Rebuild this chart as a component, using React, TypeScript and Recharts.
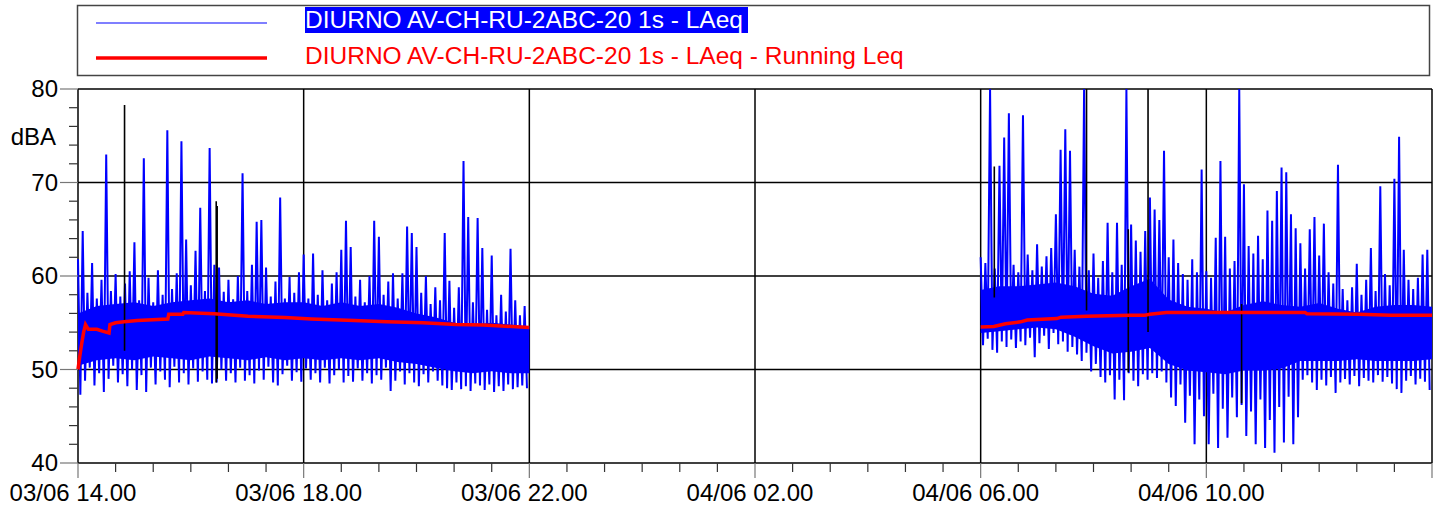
import { Area, CartesianGrid, ComposedChart, Line, XAxis, YAxis } from 'recharts'

// minutes from 03/06 14.00
const SLOT = 5
const CORE_STEP = 20
const DAY_START = 0
const MORNING_START = 960

const xTicks = Array.from({ length: 37 }, (_, i) => i * 40)
const xLabels: Record<number, string> = {
  0: '03/06 14.00',
  240: '03/06 18.00',
  480: '03/06 22.00',
  720: '04/06 02.00',
  960: '04/06 06.00',
  1200: '04/06 10.00',
}
const yTicks = Array.from({ length: 21 }, (_, i) => 40 + i * 2)

// LAeq 1s, 5-minute max / min envelope, 14.00 - 22.00
const dayHi = [
  61.8, 64.8, 58.2, 61.4, 57.6, 59.6, 73.0, 58.4, 60.2, 57.8,
  59.2, 60.5, 63.6, 57.4, 72.6, 59.8, 57.2, 60.6, 58.0, 75.6,
  58.6, 60.3, 74.4, 63.9, 59.0, 62.7, 67.3, 58.4, 73.7, 61.2,
  60.9, 58.3, 59.6, 57.5, 60.0, 71.0, 58.4, 61.2, 65.8, 66.0,
  60.9, 57.8, 59.4, 68.4, 57.6, 59.9, 58.2, 60.4, 62.3, 57.6,
  62.4, 58.0, 60.6, 57.4, 59.2, 60.4, 62.8, 65.9, 63.1, 57.8,
  59.6, 57.2, 60.0, 65.9, 64.2, 58.0, 59.4, 60.3, 57.6, 60.3,
  65.3, 64.6, 63.1, 58.2, 60.0, 57.0, 58.8, 57.4, 64.6, 59.5,
  56.6, 58.8, 72.3, 66.3, 57.2, 66.2, 63.0, 56.4, 62.2, 55.8,
  58.0, 56.2, 62.9, 57.4, 55.8, 56.8,
]
const dayLo = [
  47.3, 48.8, 50.2, 48.3, 49.6, 47.6, 49.0, 50.4, 48.6, 49.5,
  48.2, 50.0, 47.8, 49.4, 47.6, 50.2, 48.4, 49.8, 48.9, 48.1,
  50.3, 48.6, 49.6, 48.4, 50.1, 48.7, 49.8, 48.9, 48.5, 48.6,
  50.0, 48.8, 49.6, 48.6, 50.2, 48.8, 49.4, 48.5, 49.9, 48.9,
  50.3, 48.6, 48.3, 49.5, 50.4, 48.8, 49.7, 48.7, 50.1, 48.9,
  49.6, 48.6, 50.2, 48.5, 49.4, 50.0, 48.6, 49.3, 48.7, 50.1,
  48.8, 49.6, 48.5, 49.4, 48.9, 50.2, 47.7, 48.8, 49.8, 48.4,
  49.6, 48.6, 48.2, 49.5, 48.6, 49.8, 48.8, 48.3, 48.0, 47.8,
  48.6, 47.9, 48.2, 47.7, 48.5, 48.3, 47.8, 48.4, 47.6, 48.2,
  47.7, 48.4, 47.9, 48.1, 48.3, 48.0,
]
// dense part of the trace, every 20 minutes
const dayCoreHi = [
  56.0, 56.8, 57.0, 57.2, 56.8, 57.2, 57.4, 57.6, 57.2, 57.4, 57.0, 57.2, 57.2,
  56.8, 57.2, 56.8, 57.0, 56.6, 56.0, 55.6, 55.0, 54.8, 55.0, 54.8, 54.6,
]
const dayCoreLo = [
  50.4, 51.0, 51.2, 51.0, 51.4, 51.2, 51.0, 51.4, 51.2, 51.0, 51.3, 51.0, 51.2,
  51.0, 51.2, 51.0, 51.2, 50.8, 50.6, 50.2, 49.8, 49.6, 49.8, 49.6, 49.6,
]

// LAeq 1s, 5-minute max / min envelope, 06.00 - 14.00
const morningHi = [
  62.0, 61.4, 80.0, 60.8, 71.8, 74.8, 77.4, 61.2, 60.4, 77.2,
  62.3, 60.6, 63.4, 61.0, 62.1, 63.0, 66.6, 73.5, 75.7, 73.4,
  62.8, 61.0, 80.0, 60.6, 62.4, 59.8, 61.6, 65.7, 60.4, 65.7,
  61.2, 80.0, 65.5, 63.8, 62.6, 64.8, 68.4, 67.1, 66.0, 73.4,
  62.0, 63.9, 61.4, 60.2, 59.6, 61.8, 60.4, 71.4, 60.5, 59.8,
  64.1, 72.3, 64.2, 60.8, 61.6, 80.0, 69.8, 63.2, 62.4, 64.3,
  61.8, 67.0, 65.9, 69.1, 71.6, 71.1, 66.6, 65.1, 63.5, 60.8,
  65.0, 66.3, 62.2, 65.6, 60.4, 59.2, 71.9, 58.6, 57.4, 58.8,
  61.3, 58.0, 59.6, 63.0, 58.4, 69.6, 60.2, 59.0, 70.4, 74.9,
  62.8, 59.6, 58.6, 59.8, 62.3, 62.8,
]
const morningLo = [
  52.6, 53.3, 52.1, 51.8, 53.0, 52.4, 53.2, 52.3, 53.0, 52.6,
  53.4, 51.3, 52.8, 53.6, 52.2, 53.9, 52.7, 53.0, 51.9, 52.4,
  51.6, 50.9, 51.8, 49.8, 50.6, 49.2, 48.6, 49.4, 46.8, 48.9,
  46.7, 49.6, 48.8, 48.2, 49.5, 48.9, 49.6, 49.1, 49.8, 48.6,
  47.0, 46.1, 48.4, 44.3, 47.2, 42.0, 46.8, 45.0, 42.0, 47.4,
  41.6, 45.8, 42.7, 47.0, 44.9, 46.2, 42.9, 45.5, 42.0, 46.8,
  41.6, 44.6, 41.1, 46.0, 42.2, 47.1, 42.0, 44.9, 48.9, 49.4,
  48.6, 47.8, 48.9, 48.3, 49.2, 47.5, 48.6, 49.0, 48.4, 49.3,
  48.2, 49.1, 48.8, 48.6, 49.4, 48.7, 49.2, 48.5, 47.9, 47.5,
  48.8, 49.3, 48.4, 49.0, 48.7, 47.8,
]
const morningCoreHi = [
  58.5, 58.9, 58.9, 59.1, 59.3, 58.9, 58.1, 57.9, 58.9, 59.7, 57.5, 56.7, 56.5,
  56.1, 56.9, 57.3, 56.9, 56.7, 57.1, 56.5, 56.1, 56.7, 56.9, 56.9, 56.7,
]
const morningCoreLo = [
  53.9, 54.1, 54.3, 54.5, 54.3, 53.5, 52.5, 51.7, 51.9, 52.3, 50.6, 49.9, 49.7,
  49.5, 49.9, 49.9, 50.1, 50.9, 50.9, 50.9, 51.1, 50.9, 50.9, 50.9, 51.1,
]

// running Leq [minute, dBA]
const runningLeqDay: [number, number][] = [
  [0, 50.0], [2, 51.5], [4, 52.8], [6, 54.0], [8, 54.8], [11, 54.3], [20, 54.3],
  [26, 54.1], [33, 53.9], [34, 54.8], [40, 55.0], [49, 55.1], [63, 55.25], [95.5, 55.4],
  [96.5, 55.9], [111.5, 55.9], [112.5, 56.1], [145, 55.95], [181, 55.7], [220, 55.55],
  [248, 55.4], [294, 55.25], [328, 55.1], [367, 55.0], [402, 54.8], [431, 54.75], [480, 54.5],
]
const runningLeqMorning: [number, number][] = [
  [960, 54.55], [974, 54.6], [986.5, 54.9], [1002.5, 55.1], [1009.5, 55.3], [1041, 55.45],
  [1045.5, 55.6], [1072.5, 55.7], [1118.5, 55.8], [1134.5, 55.8], [1139.8, 55.9],
  [1157.5, 56.1], [1305, 56.1], [1307, 55.95], [1362, 55.9], [1396, 55.8], [1440, 55.8],
]

// black event marks [minute, top, bottom]
const markers: [number, number, number][] = [
  [49.5, 78.3, 52.0],
  [147, 68.0, 48.6],
  [148, 67.5, 49.0],
  [974.5, 71.7, 57.7],
  [1072.6, 80.0, 56.3],
  [1117, 65.0, 49.7],
  [1138, 80.0, 54.0],
  [1237.5, 57.0, 46.4],
]

const band = (start: number, hi: number[], lo: number[]) =>
  hi.flatMap((h, i) => [
    { t: start + i * SLOT, v: h },
    { t: start + i * SLOT + SLOT / 2, v: lo[i] },
  ])
const core = (start: number, hi: number[], lo: number[]) =>
  hi.map((h, i) => ({ t: start + i * CORE_STEP, range: [lo[i], h] }))

const dayData = band(DAY_START, dayHi, dayLo)
const morningData = band(MORNING_START, morningHi, morningLo)
const dayCore = core(DAY_START, dayCoreHi, dayCoreLo)
const morningCore = core(MORNING_START, morningCoreHi, morningCoreLo)
const leqDayData = runningLeqDay.map(([t, v]) => ({ t, v }))
const leqMorningData = runningLeqMorning.map(([t, v]) => ({ t, v }))
const markerData = markers.flatMap(([t, top, bottom]) => [
  { t, v: top },
  { t, v: bottom },
  { t: t + 0.01, v: null },
])

const FONT = '"Liberation Sans", Arial, sans-serif'
const BLUE = '#0000ff'
const RED = '#ff0000'

const XTick = ({ x, y, payload }: any) => {
  const major = payload.value % 240 === 0
  const label = xLabels[payload.value]
  return (
    <g>
      <line x1={x} x2={x} y1={y} y2={y + (major ? 15 : 9)} stroke={major ? '#777' : '#333'} strokeWidth={1.2} />
      {label && (
        <text x={x - 5} y={y + 38} textAnchor="middle" fontSize={24} fill="#000" fontFamily={FONT}>
          {label}
        </text>
      )}
    </g>
  )
}

const YTick = ({ x, y, payload }: any) => {
  const major = payload.value % 10 === 0
  return (
    <g>
      <line x1={x - (major ? 18 : 9)} x2={x} y1={y} y2={y} stroke={major ? '#777' : '#333'} strokeWidth={1.2} />
      {major && (
        <text x={x - 20} y={y + 8} textAnchor="end" fontSize={24} fill="#000" fontFamily={FONT}>
          {payload.value}
        </text>
      )}
    </g>
  )
}

function LegendBox() {
  return (
    <svg width={1444} height={80} style={{ position: 'absolute', left: 0, top: 0 }}>
      <rect x={77.5} y={5.5} width={1352} height={70} fill="#fff" stroke="#444" strokeWidth={1.5} />
      <line x1={96} x2={267} y1={23} y2={23} stroke={BLUE} strokeWidth={1.2} />
      <rect x={305} y={7} width={443} height={26} fill={BLUE} />
      <text x={305} y={28} fontSize={24.5} fill="#fff" fontFamily={FONT}>
        DIURNO AV-CH-RU-2ABC-20 1s - LAeq
      </text>
      <line x1={96} x2={267} y1={58} y2={58} stroke={RED} strokeWidth={3.5} />
      <text x={305} y={64} fontSize={24.5} fill={RED} fontFamily={FONT}>
        DIURNO AV-CH-RU-2ABC-20 1s - LAeq - Running Leq
      </text>
    </svg>
  )
}

const lineProps = { dataKey: 'v', dot: false, activeDot: false, isAnimationActive: false } as const

export default function App() {
  return (
    <div style={{ position: 'absolute', left: 0, top: 0, width: 1444, height: 511, background: '#fff' }}>
      <ComposedChart width={1444} height={511} margin={{ top: 89, right: 12, bottom: 8, left: 0 }}>
        <CartesianGrid
          stroke="#000"
          strokeWidth={1.5}
          horizontalValues={[40, 50, 60, 70, 80]}
          verticalValues={[0, 240, 480, 720, 960, 1200, 1440]}
        />
        <XAxis
          type="number"
          dataKey="t"
          domain={[0, 1440]}
          ticks={xTicks}
          interval={0}
          tick={<XTick />}
          tickSize={0}
          tickMargin={0}
          axisLine={false}
          height={40}
          allowDuplicatedCategory={false}
        />
        <YAxis
          type="number"
          domain={[40, 80]}
          ticks={yTicks}
          interval={0}
          tick={<YTick />}
          tickSize={0}
          tickMargin={0}
          axisLine={false}
          width={78}
          label={{
            value: 'dBA',
            content: ({ viewBox }: any) => (
              <text
                x={viewBox.x + viewBox.width - 22}
                y={viewBox.y + 56}
                textAnchor="end"
                fontSize={24}
                fill="#000"
                fontFamily={FONT}
              >
                dBA
              </text>
            ),
          }}
        />
        <Area data={dayCore} dataKey="range" type="linear" fill={BLUE} fillOpacity={1} stroke="none" isAnimationActive={false} activeDot={false} />
        <Area data={morningCore} dataKey="range" type="linear" fill={BLUE} fillOpacity={1} stroke="none" isAnimationActive={false} activeDot={false} />
        <Line data={dayData} stroke={BLUE} strokeWidth={2} {...lineProps} />
        <Line data={morningData} stroke={BLUE} strokeWidth={2} {...lineProps} />
        <Line data={markerData} stroke="#000" strokeWidth={1.6} connectNulls={false} {...lineProps} />
        <Line data={leqDayData} stroke={RED} strokeWidth={3.5} {...lineProps} />
        <Line data={leqMorningData} stroke={RED} strokeWidth={3.5} {...lineProps} />
      </ComposedChart>
      <LegendBox />
    </div>
  )
}
